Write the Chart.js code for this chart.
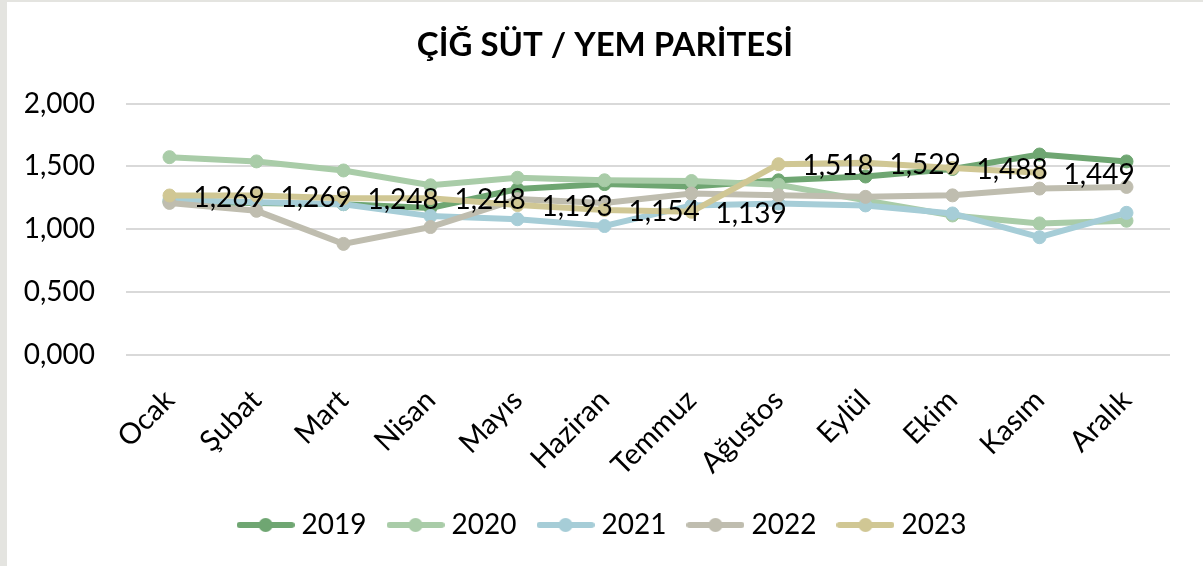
<!DOCTYPE html>
<html>
<head>
<meta charset="utf-8">
<script src="https://cdn.jsdelivr.net/npm/chart.js@4.4.0/dist/chart.umd.min.js"></script>
<style>
    html, body { margin: 0; padding: 0; background: #e4e4e0; }
    #wrap { position: absolute; left: 7px; top: 2px; width: 1196px; height: 564px; background: #fff; }
</style>
</head>
<body>
<div id="wrap"><canvas id="myChart" width="1196" height="564"></canvas></div>
<script>
// Aylar ve yillara gore parite degerleri
const months = ['Ocak', 'Şubat', 'Mart', 'Nisan', 'Mayıs', 'Haziran', 'Temmuz', 'Ağustos', 'Eylül', 'Ekim', 'Kasım', 'Aralık'];
const years = ['2019', '2020', '2021', '2022', '2023'];
const values2019 = [1.22, 1.21, 1.20, 1.17, 1.32, 1.36, 1.34, 1.39, 1.42, 1.48, 1.595, 1.54];
const values2020 = [1.574, 1.54, 1.468, 1.35, 1.41, 1.39, 1.384, 1.355, 1.23, 1.11, 1.047, 1.068];
const values2021 = [1.235, 1.215, 1.20, 1.105, 1.08, 1.026, 1.19, 1.205, 1.19, 1.126, 0.937, 1.131];
const values2022 = [1.21, 1.147, 0.884, 1.018, 1.24, 1.21, 1.284, 1.27, 1.258, 1.27, 1.324, 1.337];
const values2023 = [1.269, 1.269, 1.248, 1.248, 1.193, 1.154, 1.139, 1.518, 1.529, 1.488, 1.449, null];
const yTicks = [0, 0.5, 1, 1.5, 2];
const colors = ['#6fa672', '#a9cca8', '#a6cdd7', '#bfbdaf', '#d0c794'];

const FONT = 'Lato';

// 1.269 -> "1,269"
function fmt(v) {
    return Number(v).toFixed(3).replace('.', ',');
}

// legend icon: short line with a dot in the middle
function legendSample(color) {
    const c = document.createElement('canvas');
    c.width = 58;
    c.height = 16;
    const g = c.getContext('2d');
    g.strokeStyle = color;
    g.lineWidth = 6;
    g.lineCap = 'round';
    g.beginPath();
    g.moveTo(3, 8);
    g.lineTo(55, 8);
    g.stroke();
    g.fillStyle = color;
    g.beginPath();
    g.arc(29, 8, 7, 0, Math.PI * 2);
    g.fill();
    return c;
}

// values written to the right of the 2023 points
const valueLabels = {
    id: 'valueLabels',
    afterDatasetsDraw(chart) {
        const meta = chart.getDatasetMeta(4);
        const ctx = chart.ctx;
        ctx.save();
        ctx.font = '28px ' + FONT;
        ctx.fillStyle = '#000';
        ctx.textAlign = 'left';
        ctx.textBaseline = 'middle';
        meta.data.forEach(function (pt, i) {
            const v = values2023[i];
            if (v === null) return;
            ctx.fillText(fmt(v), pt.x + 24, pt.y + 2);
        });
        ctx.restore();
    }
};

const seriesValues = [values2019, values2020, values2021, values2022, values2023];

function buildChart() {
    const samples = colors.map(legendSample);

    const datasets = years.map(function (y, i) {
        return {
            label: y,
            data: seriesValues[i],
            borderColor: colors[i],
            backgroundColor: colors[i],
            pointBackgroundColor: colors[i],
            pointBorderColor: colors[i],
            borderWidth: 6,
            pointRadius: 6.5,
            pointBorderWidth: 1,
            tension: 0,
            order: 5 - i
        };
    });

    const config = {
        type: 'line',
        data: { labels: months, datasets: datasets },
        options: {
            responsive: false,
            animation: false,
            layout: { padding: { left: 0, right: 0, top: 0, bottom: 17 } },
            plugins: {
                title: {
                    display: true,
                    text: 'ÇİĞ SÜT / YEM PARİTESİ',
                    color: '#000',
                    font: { family: FONT, size: 33, weight: 'bold' },
                    padding: { top: 24, bottom: 38 }
                },
                legend: {
                    position: 'bottom',
                    labels: {
                        usePointStyle: true,
                        pointStyleWidth: 44,
                        padding: 27,
                        color: '#000',
                        font: { family: FONT, size: 28 },
                        generateLabels: function (chart) {
                            return chart.data.datasets.map(function (ds, i) {
                                return {
                                    text: ds.label,
                                    datasetIndex: i,
                                    pointStyle: samples[i],
                                    fillStyle: ds.borderColor,
                                    strokeStyle: ds.borderColor,
                                    lineWidth: 0,
                                    hidden: false,
                                    fontColor: '#000'
                                };
                            });
                        }
                    }
                },
                tooltip: { enabled: false }
            },
            scales: {
                x: {
                    offset: true,
                    grid: { display: false, offset: true },
                    border: { display: false },
                    ticks: {
                        minRotation: 45,
                        maxRotation: 45,
                        padding: 20,
                        color: '#000',
                        font: { family: FONT, size: 29 }
                    },
                    afterFit: function (s) { s.height = 129; }
                },
                y: {
                    min: 0,
                    max: 2,
                    afterBuildTicks: function (s) {
                        s.ticks = yTicks.map(function (v) { return { value: v }; });
                    },
                    grid: { color: '#d9d9d9', lineWidth: 2, drawTicks: false },
                    border: { display: false },
                    ticks: {
                        padding: 31,
                        color: '#000',
                        font: { family: FONT, size: 28 },
                        callback: function (v) { return fmt(v); }
                    },
                    afterFit: function (s) { s.width = 119; }
                },
                // empty axis on the right, only keeps space free
                yRight: {
                    position: 'right',
                    display: true,
                    grid: { display: false },
                    border: { display: false },
                    ticks: { display: false },
                    afterFit: function (s) { s.width = 33; }
                }
            }
        },
        plugins: [valueLabels]
    };

    new Chart(document.getElementById('myChart'), config);
}

Promise.all([
    document.fonts.load('28px ' + FONT),
    document.fonts.load('bold 33px ' + FONT)
]).then(buildChart, buildChart);
</script>
</body>
</html>
